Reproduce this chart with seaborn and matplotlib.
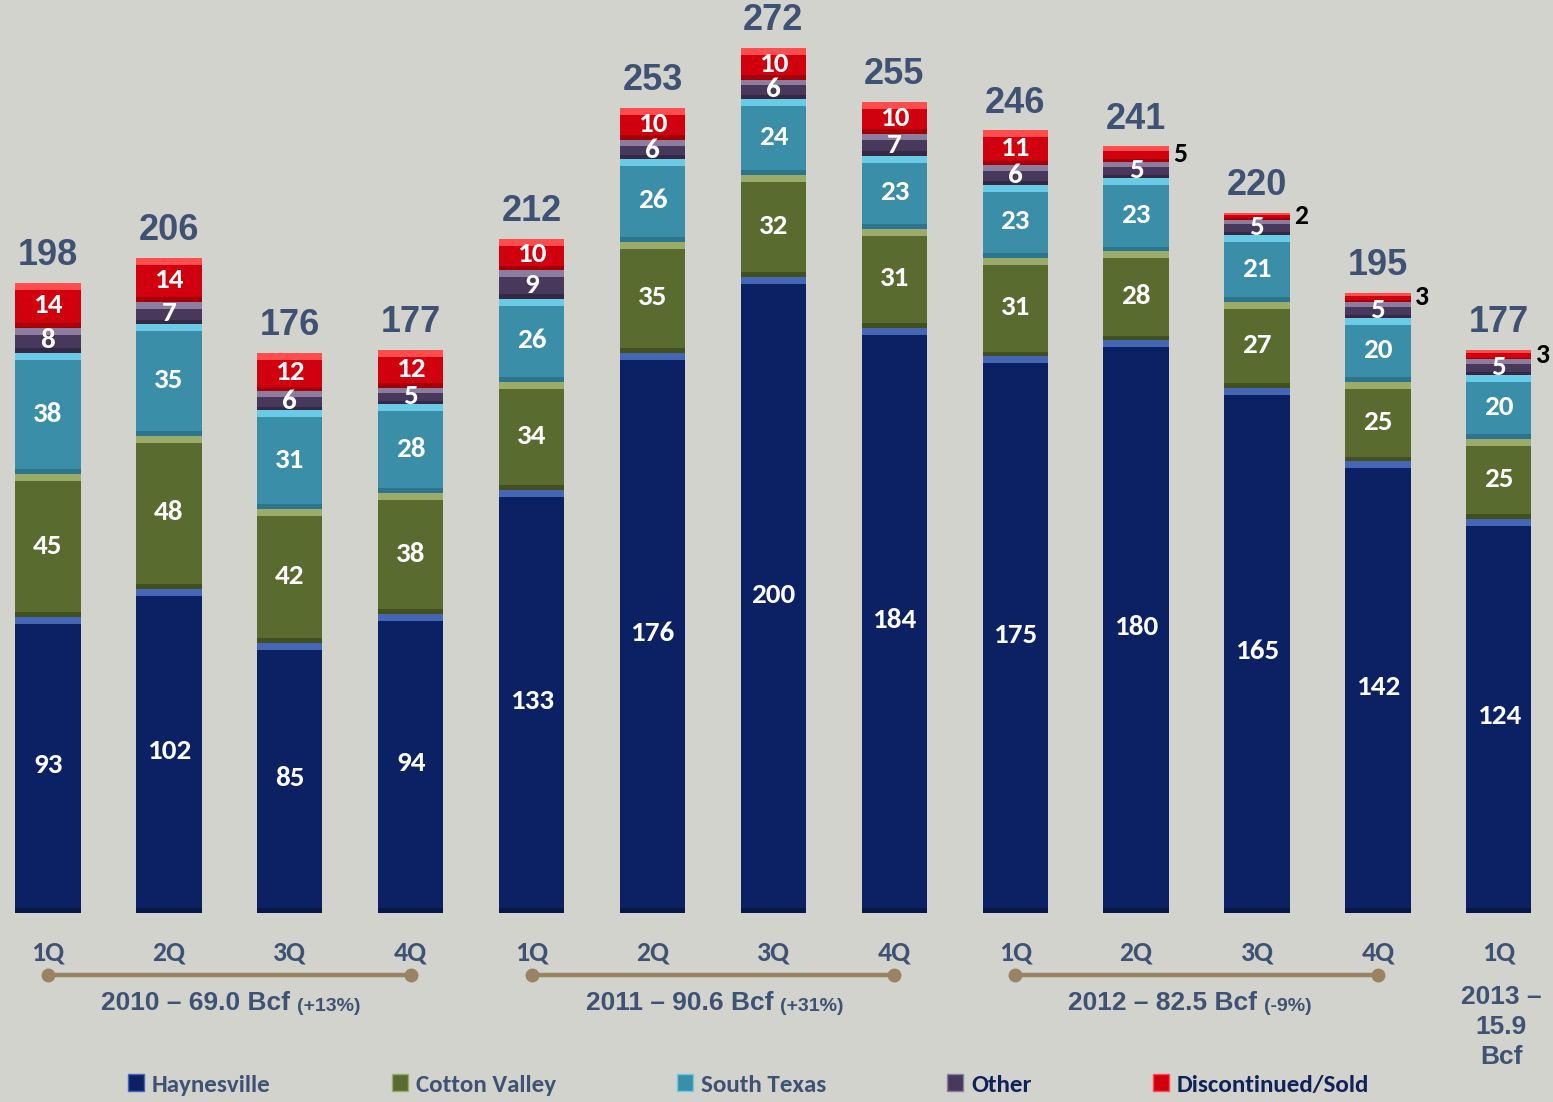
import pandas as pd
import matplotlib.pyplot as plt
import seaborn as sns
from matplotlib.patches import Patch

# Produção por trimestre (MMcfe/d)
periods = ["2010 1Q", "2010 2Q", "2010 3Q", "2010 4Q",
           "2011 1Q", "2011 2Q", "2011 3Q", "2011 4Q",
           "2012 1Q", "2012 2Q", "2012 3Q", "2012 4Q", "2013 1Q"]
quarters = ["1Q", "2Q", "3Q", "4Q"] * 3 + ["1Q"]
haynesville = [93, 102, 85, 94, 133, 176, 200, 184, 175, 180, 165, 142, 124]
cotton_valley = [45, 48, 42, 38, 34, 35, 32, 31, 31, 28, 27, 25, 25]
south_texas = [38, 35, 31, 28, 26, 26, 24, 23, 23, 23, 21, 20, 20]
other = [8, 7, 6, 5, 9, 6, 6, 7, 6, 5, 5, 5, 5]
discontinued = [14, 14, 12, 12, 10, 10, 10, 10, 11, 5, 2, 3, 3]
totals = [198, 206, 176, 177, 212, 253, 272, 255, 246, 241, 220, 195, 177]

years = ["2010 – 69.0 Bcf", "2011 – 90.6 Bcf", "2012 – 82.5 Bcf"]
year_changes = ["(+13%)", "(+31%)", "(-9%)"]

names = ["Haynesville", "Cotton Valley", "South Texas", "Other", "Discontinued/Sold"]
colors = ["#0b2163", "#5a6b2f", "#3a8ea8", "#47385c", "#d0000e"]
lights = ["#4565b5", "#9aab6a", "#6acbe6", "#8c7c9e", "#ff4d4d"]
darks = ["#071540", "#3c4a1c", "#2a6f85", "#30243f", "#9a0008"]
legend_colors = ["#3f5274", "#3f5274", "#3f5274", "#0f2259", "#0f2259"]

slate = "#3f5274"
bg = "#d2d3cd"
narrow = ["Carlito", "Liberation Sans Narrow", "Lato", "DejaVu Sans"]
wide = ["Liberation Sans", "DejaVu Sans"]

sns.set_style("white")
plt.rcParams['font.family'] = narrow

df = pd.DataFrame({"period": periods, names[0]: haynesville, names[1]: cotton_valley,
                   names[2]: south_texas, names[3]: other, names[4]: discontinued})
cum = df[names].cumsum(axis=1)

fig = plt.figure(figsize=(15.53, 11.02), dpi=100, facecolor=bg)
ax = fig.add_axes([0, 189 / 1102, 1, 913 / 1102])
ax.set_facecolor(bg)

W = 0.54
# barras empilhadas: desenha do topo para a base
for name, color in reversed(list(zip(names, colors))):
    sns.barplot(x=df["period"], y=cum[name], order=periods, color=color,
                saturation=1, width=W, errorbar=None, linewidth=0, ax=ax)

# efeito de relevo (faixa clara no topo, escura na base)
xs = list(range(len(periods)))
for name, light, dark in zip(names, lights, darks):
    vals = df[name]
    tops = cum[name]
    hl = [min(2.2, v * 0.3) for v in vals]
    ax.bar(xs, hl, bottom=tops - hl, width=W, color=light, linewidth=0, zorder=3)
    sh = [min(1.5, v * 0.2) for v in vals]
    ax.bar(xs, sh, bottom=tops - vals, width=W, color=dark, linewidth=0, zorder=3, alpha=0.8)

# rótulos dos segmentos
for name in names:
    for i, v in enumerate(df[name]):
        mid = cum[name][i] - v / 2
        if name == names[-1] and v < 6:
            ax.annotate(str(v), xy=(i + W / 2, cum[name][i] - v / 2), xytext=(3, 0),
                        textcoords="offset points", ha="left", va="center",
                        fontsize=20, fontweight="bold", color="black", zorder=5)
        else:
            ax.text(i, mid, str(v), ha="center", va="center", fontsize=21,
                    fontweight="bold", color="white", zorder=5)

# totais
for i, t in enumerate(totals):
    ax.annotate(str(t), xy=(i, t), xytext=(0, 7), textcoords="offset points",
                ha="center", va="bottom", fontsize=26, fontweight="bold",
                color=slate, family=wide)

ax.set_xlim(-48 / 120.9, (1553 - 48) / 120.9)
ax.set_ylim(0, 287)
ax.set_xticks(xs)
ax.set_xticklabels(quarters, fontsize=20, fontweight="bold", color=slate)
ax.tick_params(axis="x", length=0, pad=20)
ax.set_yticks([])
ax.set_xlabel("")
ax.set_ylabel("")
for s in ax.spines.values():
    s.set_visible(False)

# linhas dos anos
trans = ax.get_xaxis_transform()
for k, (label, chg) in enumerate(zip(years, year_changes)):
    start = k * 4
    ax.plot([start, start + 3], [-0.0679, -0.0679], transform=trans, clip_on=False,
            color="#9a8264", lw=3.2, marker="o", markersize=9, solid_capstyle="butt")
    t = ax.text(start + 2.0, -0.0986, label, ha="right", va="center",
                transform=trans, fontsize=19, fontweight="bold", color=slate, family=wide)
    ax.annotate(chg, xy=(1, 0), xycoords=t, xytext=(5, 0),
                textcoords="offset points", ha="left", va="bottom",
                fontsize=14, fontweight="bold", color=slate, family=wide)

ax.text(12.02, -0.1249, "2013 –\n15.9\nBcf", ha="center", va="center", transform=trans,
        fontsize=19, fontweight="bold", color=slate, family=wide, linespacing=1.3)

# legenda
handles = [Patch(facecolor=c, edgecolor=l, linewidth=1) for c, l in zip(colors, lights)]
leg = fig.legend(handles, names, loc="center left", bbox_to_anchor=(128 / 1553, 1 - 1085 / 1102),
                 ncol=5, frameon=False, fontsize=18, handlelength=0.65, handleheight=0.65,
                 handletextpad=0.3, columnspacing=4.85, borderpad=0, borderaxespad=0)
for txt, c in zip(leg.get_texts(), legend_colors):
    txt.set_color(c)
    txt.set_fontweight("bold")

fig.savefig("out.png", dpi=100, facecolor=bg)
